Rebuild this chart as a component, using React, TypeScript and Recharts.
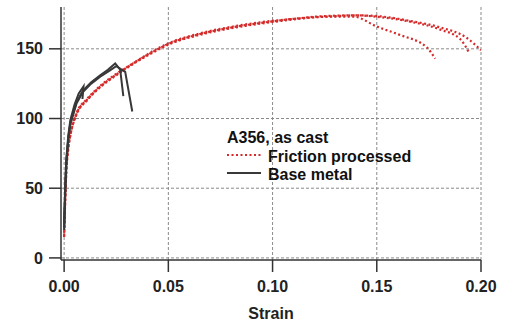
import { LineChart, Line, XAxis, YAxis, CartesianGrid } from "recharts";

// friction processed specimens (strain, stress MPa)
const fp1Strain = [0, 0.0005, 0.001, 0.002, 0.003, 0.006, 0.011, 0.017, 0.025, 0.033, 0.041, 0.05, 0.065, 0.081, 0.094, 0.11, 0.125, 0.139, 0.15, 0.161, 0.174, 0.178];
const fp1Stress = [15, 40, 60, 78, 88, 103, 113, 122, 131, 139, 146, 153, 160, 165, 168, 171, 173, 173, 166, 160, 151, 143];

const fp2Strain = [0, 0.0005, 0.001, 0.002, 0.003, 0.006, 0.011, 0.017, 0.025, 0.033, 0.041, 0.05, 0.065, 0.081, 0.094, 0.11, 0.125, 0.14, 0.15, 0.166, 0.18, 0.19, 0.194];
const fp2Stress = [18, 42, 62, 80, 89, 104, 114, 123, 132, 139.5, 146.5, 153.5, 160.5, 165.5, 168.5, 171.5, 173.5, 174, 173, 169.5, 164, 157, 148];

const fp3Strain = [0, 0.0005, 0.001, 0.002, 0.003, 0.006, 0.011, 0.017, 0.025, 0.033, 0.041, 0.05, 0.065, 0.081, 0.094, 0.11, 0.125, 0.14, 0.15, 0.166, 0.18, 0.193, 0.2];
const fp3Stress = [16, 41, 61, 79, 88, 103.5, 113.5, 122.5, 131.5, 139.5, 147, 154, 161, 166, 169, 171.5, 173, 174, 173.5, 170, 165.5, 158, 149];

// base metal specimens
const bm1Strain = [0, 0.0005, 0.001, 0.002, 0.003, 0.005, 0.007, 0.0093, 0.0088];
const bm1Stress = [25, 50, 70, 88, 99, 110, 118, 123, 114];

const bm2Strain = [0, 0.0005, 0.001, 0.002, 0.003, 0.006, 0.009, 0.013, 0.0173, 0.021, 0.0245, 0.0269, 0.0284];
const bm2Stress = [22, 48, 68, 86, 97, 112, 120, 126, 131, 135, 139.5, 135, 116];

const bm3Strain = [0, 0.0005, 0.001, 0.002, 0.003, 0.006, 0.009, 0.013, 0.0173, 0.022, 0.025, 0.0293, 0.0327];
const bm3Stress = [20, 46, 66, 85, 96, 111, 119, 125, 130, 134.5, 137.5, 133.5, 105];

const xTicks = [0, 0.05, 0.1, 0.15, 0.2];
const yTicks = [0, 50, 100, 150];

const toPoints = (xs: number[], ys: number[]) => xs.map((x, i) => ({ x, y: ys[i] }));

const RED = "#d42a2a";
const DARK = "#383838";
const FONT = '"Liberation Sans", Arial, sans-serif';

const friction = [
  toPoints(fp1Strain, fp1Stress),
  toPoints(fp2Strain, fp2Stress),
  toPoints(fp3Strain, fp3Stress),
];
const base = [
  toPoints(bm1Strain, bm1Stress),
  toPoints(bm2Strain, bm2Stress),
  toPoints(bm3Strain, bm3Stress),
];

const tickStyle = { fontFamily: FONT, fontSize: 16, fontWeight: 700, fill: "#222" };

export default function App() {
  return (
    <div style={{ position: "absolute", left: 0, top: 0, width: 506, height: 322, background: "#fff" }}>
      <LineChart width={506} height={322} margin={{ top: 7, right: 25, left: 0, bottom: 3 }}>
        <CartesianGrid stroke="#8a8a8a" strokeDasharray="3 2" strokeWidth={1} syncWithTicks />
        <XAxis
          type="number"
          dataKey="x"
          domain={[-0.0015, 0.2]}
          allowDataOverflow
          ticks={xTicks}
          tickFormatter={(v: number) => v.toFixed(2)}
          tick={tickStyle}
          tickSize={12}
          tickMargin={9}
          axisLine={{ stroke: "#333", strokeWidth: 1.5 }}
          tickLine={{ stroke: "#333", strokeWidth: 1.5 }}
          height={59}
          label={{ value: "Strain", position: "insideBottom", offset: 0, style: { fontFamily: FONT, fontSize: 16, fontWeight: 700, fill: "#222" } }}
        />
        <YAxis
          type="number"
          dataKey="y"
          domain={[-1.5, 180]}
          allowDataOverflow
          ticks={yTicks}
          tick={tickStyle}
          tickSize={12}
          tickMargin={6}
          width={61}
          axisLine={{ stroke: "#333", strokeWidth: 1.5 }}
          tickLine={{ stroke: "#333", strokeWidth: 1.5 }}
        />
        {friction.map((d, i) => (
          <Line
            key={"fp" + i}
            data={d}
            dataKey="y"
            type="monotone"
            stroke={RED}
            strokeWidth={2.2}
            strokeDasharray="2 2.5"
            dot={false}
            isAnimationActive={false}
          />
        ))}
        {base.map((d, i) => (
          <Line
            key={"bm" + i}
            data={d}
            dataKey="y"
            type="linear"
            stroke={DARK}
            strokeWidth={2}
            dot={false}
            isAnimationActive={false}
          />
        ))}
      </LineChart>
      <svg
        width={506}
        height={322}
        style={{ position: "absolute", left: 0, top: 0, pointerEvents: "none" }}
      >
        <g fontFamily={FONT} fontWeight={700} fontSize={16} fill="#111">
          <text x={227} y={143}>A356, as cast</text>
          <line x1={227} x2={261} y1={155} y2={155} stroke={RED} strokeWidth={2.2} strokeDasharray="2 2.5" />
          <text x={268} y={162}>Friction processed</text>
          <line x1={227} x2={261} y1={173} y2={173} stroke={DARK} strokeWidth={2} />
          <text x={268} y={180}>Base metal</text>
        </g>
      </svg>
    </div>
  );
}
